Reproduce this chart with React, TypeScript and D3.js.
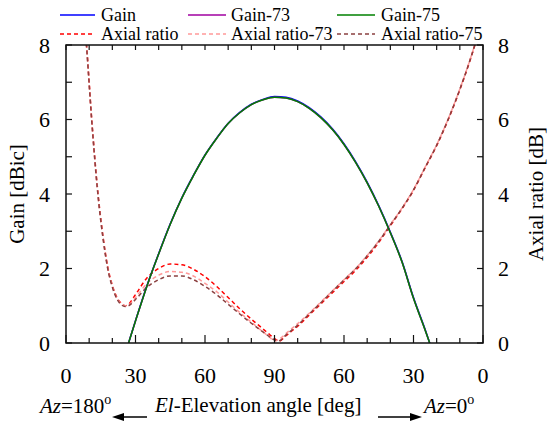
import React from 'react';
import * as d3 from 'd3';

// position along the axis: 0 = El 0 (Az 180), 90 = zenith, 180 = El 0 (Az 0)
const gainPos = [27, 30, 35, 40, 45, 50, 55, 60, 65, 70, 75, 80, 85, 90, 95, 100, 105, 110, 115, 120, 125, 130, 135, 140, 145, 150, 155, 157];
const gain = [0, 0.6, 1.55, 2.4, 3.2, 3.9, 4.5, 5.05, 5.5, 5.9, 6.19, 6.41, 6.54, 6.62, 6.6, 6.5, 6.32, 6.07, 5.75, 5.35, 4.87, 4.32, 3.69, 2.98, 2.2, 1.22, 0.37, 0];
const gain73 = [0, 0.59, 1.54, 2.39, 3.19, 3.89, 4.49, 5.04, 5.49, 5.89, 6.18, 6.4, 6.53, 6.6, 6.58, 6.48, 6.3, 6.05, 5.73, 5.33, 4.85, 4.3, 3.67, 2.96, 2.18, 1.2, 0.35, 0];
const gain75 = [0, 0.59, 1.54, 2.39, 3.19, 3.89, 4.49, 5.04, 5.49, 5.89, 6.18, 6.4, 6.53, 6.6, 6.58, 6.48, 6.3, 6.05, 5.73, 5.33, 4.85, 4.3, 3.67, 2.96, 2.18, 1.2, 0.35, 0];

const arPos = [8, 9, 10, 11, 12, 13, 14, 16, 18, 20, 22, 24, 25.5, 27, 30, 35, 40, 45, 50, 55, 60, 65, 70, 75, 80, 85, 88, 90, 92, 95, 100, 105, 110, 115, 120, 125, 130, 135, 140, 145, 150, 155, 160, 165, 170, 175, 177];
const axialRatio = [8.6, 7.9, 7.0, 6.1, 5.3, 4.55, 3.9, 2.85, 2.05, 1.55, 1.22, 1.06, 1.0, 1.04, 1.3, 1.75, 2.0, 2.12, 2.1, 1.98, 1.78, 1.52, 1.22, 0.92, 0.64, 0.38, 0.22, 0.12, 0.05, 0.2, 0.45, 0.75, 1.05, 1.35, 1.65, 1.95, 2.3, 2.7, 3.15, 3.6, 4.1, 4.7, 5.3, 6.0, 6.8, 7.7, 8.1];
const axialRatio73 = [8.6, 7.85, 6.95, 6.05, 5.25, 4.5, 3.85, 2.82, 2.02, 1.52, 1.2, 1.04, 1.0, 1.02, 1.22, 1.6, 1.82, 1.92, 1.9, 1.8, 1.6, 1.38, 1.1, 0.82, 0.56, 0.3, 0.15, 0.05, 0.1, 0.26, 0.52, 0.8, 1.1, 1.4, 1.7, 2.0, 2.35, 2.74, 3.18, 3.62, 4.12, 4.72, 5.32, 6.02, 6.82, 7.72, 8.12];
const axialRatio75 = [8.6, 7.85, 6.95, 6.05, 5.25, 4.5, 3.85, 2.8, 2.0, 1.5, 1.18, 1.02, 0.98, 1.0, 1.17, 1.5, 1.7, 1.8, 1.8, 1.7, 1.52, 1.3, 1.04, 0.78, 0.53, 0.3, 0.16, 0.08, 0.06, 0.22, 0.48, 0.78, 1.08, 1.39, 1.69, 1.99, 2.34, 2.73, 3.17, 3.61, 4.11, 4.71, 5.31, 6.01, 6.81, 7.71, 8.11];

const xTickPos = [0, 30, 60, 90, 120, 150, 180];
const xTickLabels = ['0', '30', '60', '90', '60', '30', '0'];
const yTicks = [0, 2, 4, 6, 8];

const series = [
  { name: 'Gain', x: gainPos, y: gain, color: '#0000ff', dash: null },
  { name: 'Gain-73', x: gainPos, y: gain73, color: '#a000a0', dash: null },
  { name: 'Gain-75', x: gainPos, y: gain75, color: '#008000', dash: null },
  { name: 'Axial ratio', x: arPos, y: axialRatio, color: '#ff0000', dash: '4,3' },
  { name: 'Axial ratio-73', x: arPos, y: axialRatio73, color: '#ff9999', dash: '4,3' },
  { name: 'Axial ratio-75', x: arPos, y: axialRatio75, color: '#8b4040', dash: '4,3' },
];

const font = "'Liberation Serif', 'Times New Roman', Times, 'DejaVu Serif', serif";

export default function App() {
  const left = 66, right = 483, top = 45, bottom = 343;
  const x = d3.scaleLinear().domain([0, 180]).range([left, right]);
  const y = d3.scaleLinear().domain([0, 8]).range([bottom, top]);

  const line = (xs: number[], vs: number[]) =>
    d3.line<number>()
      .x((_, i) => x(xs[i]))
      .y((v) => y(v))
      .curve(d3.curveMonotoneX)(vs) || '';

  // legend layout: 3 columns, 2 rows
  const legX = [[60, 95, 101], [188, 226, 231], [337, 375, 381]];
  const legY = [15, 34];

  // axial ratio first, gains on top
  const drawOrder = [3, 4, 5, 0, 1, 2];

  return (
    <svg width={548} height={421} style={{ position: 'absolute', left: 0, top: 0, background: '#fff' }} fontFamily={font}>
      <defs>
        <clipPath id="plot">
          <rect x={left} y={top} width={right - left} height={bottom - top} />
        </clipPath>
      </defs>

      {/* curves */}
      <g clipPath="url(#plot)" fill="none">
        {drawOrder.map((k) => {
          const s = series[k];
          return (
            <path key={s.name} d={line(s.x, s.y)} stroke={s.color} strokeWidth={1.5}
              strokeDasharray={s.dash || undefined} />
          );
        })}
      </g>

      {/* frame */}
      <rect x={left} y={top} width={right - left} height={bottom - top} fill="none" stroke="#111" strokeWidth={1.5} />

      {/* x ticks bottom & top */}
      {d3.range(0, 181, 10).map((t) => {
        const len = t % 30 === 0 ? 8 : 5;
        return (
          <g key={'xt' + t} stroke="#111" strokeWidth={1.2}>
            <line x1={x(t)} x2={x(t)} y1={bottom} y2={bottom - len} />
            <line x1={x(t)} x2={x(t)} y1={top} y2={top + 5} />
          </g>
        );
      })}
      {/* y ticks left & right */}
      {d3.range(0, 9, 1).map((t) => (
        <g key={'yt' + t} stroke="#111" strokeWidth={1.2}>
          <line x1={left} x2={left + 6} y1={y(t)} y2={y(t)} />
          <line x1={right} x2={right - 6} y1={y(t)} y2={y(t)} />
        </g>
      ))}

      {/* tick labels */}
      <g fontSize={22} fill="#000">
        {xTickPos.map((t, i) => (
          <text key={'xl' + i} x={x(t)} y={383} textAnchor="middle">{xTickLabels[i]}</text>
        ))}
        {yTicks.map((t) => (
          <text key={'yl' + t} x={50} y={y(t)} dy="0.35em" textAnchor="end">{t}</text>
        ))}
        {yTicks.map((t) => (
          <text key={'yr' + t} x={498} y={y(t)} dy="0.35em" textAnchor="start">{t}</text>
        ))}
      </g>

      {/* axis titles */}
      <text transform={`translate(24,${(top + bottom) / 2}) rotate(-90)`} textAnchor="middle" fontSize={21}>Gain [dBic]</text>
      <text transform={`translate(543,${(top + bottom) / 2}) rotate(-90)`} textAnchor="middle" fontSize={21}>Axial ratio [dB]</text>

      <g fontSize={21}>
        <text x={40} y={413}><tspan fontStyle="italic">Az</tspan>=180<tspan fontSize={14} dy={-9}>o</tspan></text>
        <text x={155} y={412}><tspan fontStyle="italic">El</tspan>-Elevation angle [deg]</text>
        <text x={424} y={413}><tspan fontStyle="italic">Az</tspan>=0<tspan fontSize={14} dy={-9}>o</tspan></text>
      </g>
      {/* arrows */}
      <g stroke="#000" strokeWidth={1.5} fill="#000">
        <line x1={147} x2={120} y1={417} y2={417} />
        <path d="M112,417 L124,413 L124,421 Z" stroke="none" />
        <line x1={378} x2={412} y1={417} y2={417} />
        <path d="M422,417 L410,413 L410,421 Z" stroke="none" />
      </g>

      {/* legend */}
      <g fontSize={18}>
        {series.map((s, i) => {
          const col = legX[i % 3];
          const ly = legY[Math.floor(i / 3)];
          return (
            <g key={'lg' + s.name}>
              <line x1={col[0]} x2={col[1]} y1={ly} y2={ly} stroke={s.color} strokeWidth={1.5}
                strokeDasharray={s.dash || undefined} />
              <text x={col[2]} y={ly + 6}>{s.name}</text>
            </g>
          );
        })}
      </g>
    </svg>
  );
}
